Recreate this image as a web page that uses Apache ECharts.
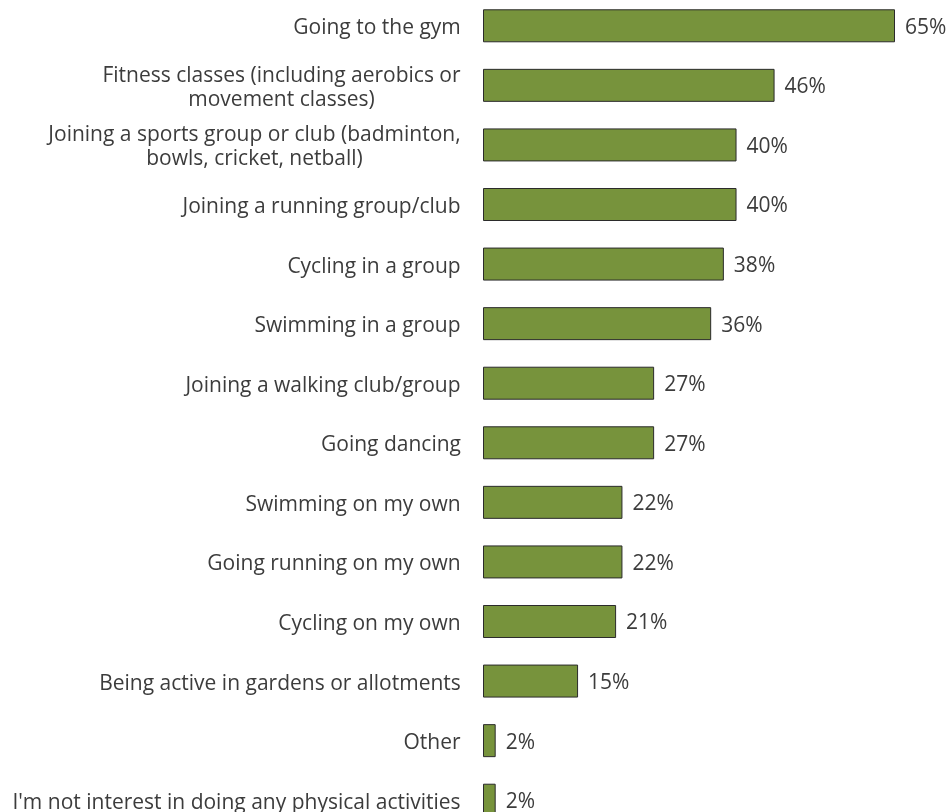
<!DOCTYPE html>
<html>
<head>
<meta charset="utf-8">
<script src="https://cdn.jsdelivr.net/npm/echarts@6/dist/echarts.min.js"></script>
<style>
  html, body { margin: 0; padding: 0; background: #ffffff; overflow: hidden; }
  body { width: 948px; height: 812px; position: relative; }
  /* the plot runs slightly past the window, so the last row is clipped */
  #chart { position: absolute; left: 0; top: -4px; width: 948px; height: 834px; }
</style>
</head>
<body>
<div id="chart"></div>
<script>
// Activities people would like to do, share of respondents (%)
const categories = [
  'Going to the gym',
  'Fitness classes (including aerobics or\nmovement classes)',
  'Joining a sports group or club (badminton,\nbowls, cricket, netball)',
  'Joining a running group/club',
  'Cycling in a group',
  'Swimming in a group',
  'Joining a walking club/group',
  'Going dancing',
  'Swimming on my own',
  'Going running on my own',
  'Cycling on my own',
  'Being active in gardens or allotments',
  'Other',
  "I'm not interest in doing any physical activities"
];
const values = [65, 46, 40, 40, 38, 36, 27, 27, 22, 22, 21, 15, 2, 2];

const FONT = 'Open Sans';
const FONT_SIZE = 21;
const LINE_HEIGHT = 24;
const TEXT_COLOR = '#3c3c3c';

// Measure each label's widest line so multi-line labels can be centred as a block
const ctx = document.createElement('canvas').getContext('2d');
ctx.font = FONT_SIZE + 'px "' + FONT + '"';
const rich = {};
categories.forEach(function (c, i) {
  const w = Math.max.apply(null, c.split('\n').map(function (s) { return ctx.measureText(s).width; }));
  rich['l' + i] = {
    width: Math.ceil(w),
    align: 'center',
    fontFamily: FONT,
    fontSize: FONT_SIZE,
    color: TEXT_COLOR,
    lineHeight: LINE_HEIGHT
  };
});

const chart = echarts.init(document.getElementById('chart'), null, { renderer: 'canvas' });
chart.setOption({
  animation: false,
  backgroundColor: '#ffffff',
  grid: { left: 483, right: 53, top: 0, bottom: 0, containLabel: false },
  xAxis: {
    type: 'value',
    min: 0,
    max: 65,
    show: false
  },
  yAxis: {
    type: 'category',
    inverse: true,
    data: categories,
    axisLine: { show: false },
    axisTick: { show: false },
    splitLine: { show: false },
    axisLabel: {
      margin: 22,
      interval: 0,
      padding: [5, 0, 0, 0],
      fontFamily: FONT,
      fontSize: FONT_SIZE,
      color: TEXT_COLOR,
      lineHeight: LINE_HEIGHT,
      formatter: function (v, i) {
        return v.split('\n').map(function (s) { return '{l' + i + '|' + s + '}'; }).join('\n');
      },
      rich: rich
    }
  },
  series: [{
    type: 'bar',
    data: values,
    barWidth: 33,
    itemStyle: { color: '#77933C', borderColor: '#2b2b2b', borderWidth: 1 },
    label: {
      show: true,
      position: 'right',
      distance: 10,
      offset: [0, 2],
      formatter: '{c}%',
      fontFamily: FONT,
      fontSize: FONT_SIZE,
      color: TEXT_COLOR
    }
  }]
});
</script>
</body>
</html>
